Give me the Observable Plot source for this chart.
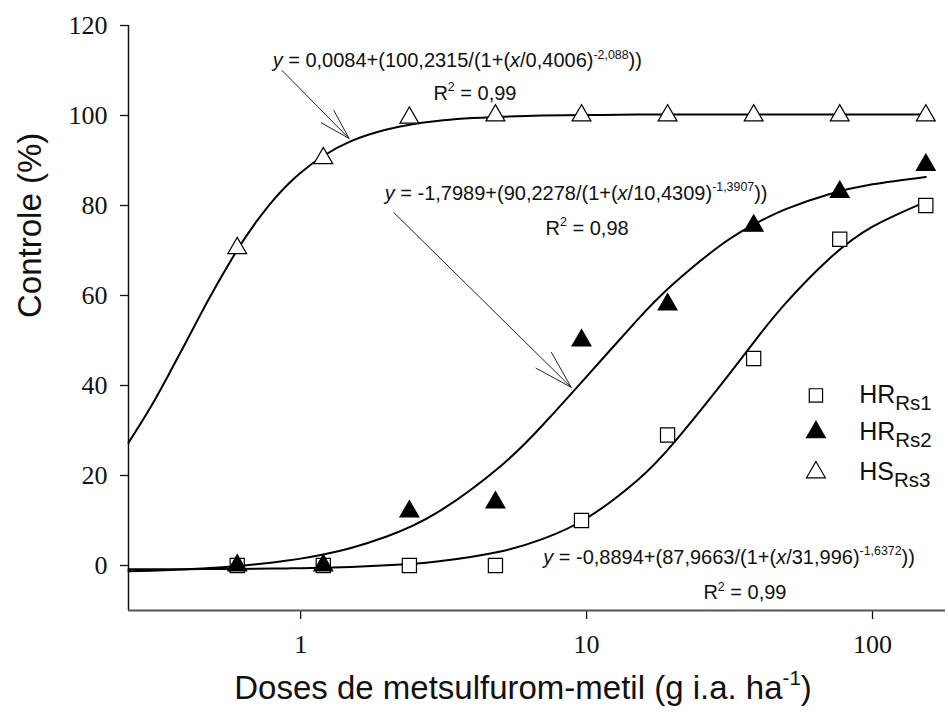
<!DOCTYPE html>
<html><head><meta charset="utf-8">
<script src="https://cdn.jsdelivr.net/npm/d3@7"></script>
<script src="https://cdn.jsdelivr.net/npm/@observablehq/plot@0.6"></script>
<style>body{margin:0;background:#fff}</style>
</head><body><div id="chart"></div>
<script>
// ---- data ----
const doses = [0.6, 1.2, 2.4, 4.8, 9.6, 19.2, 38.4, 76.8, 153.6];
const hrRs1 = [0, 0, 0, 0, 10, 29, 46, 72.5, 80];
const hrRs2 = [0, 0, 12, 14, 50, 58, 75.5, 83, 89];
const hsRs3 = [70.5, 90.5, 99.5, 100, 100, 100, 100, 100, 100];

// fitted curves as drawn
const curveDoses = [0.25, 0.3, 0.35, 0.4, 0.45, 0.5, 0.6, 0.7, 0.8, 0.9, 1, 1.2, 1.5, 2, 3, 5, 7, 10, 15, 20, 30, 40, 50, 70, 100, 153.6];
const fitRs1 = [-0.86, -0.84, -0.83, -0.81, -0.8, -0.79, -0.76, -0.72, -0.68, -0.64, -0.59, -0.48, -0.31, 0.04, 0.9, 3.13, 5.86, 10.5, 18.85, 26.97, 40.77, 51.05, 58.49, 67.96, 75.29, 80.82];
const fitRs2 = [-1.3, -1.16, -1.0, -0.84, -0.67, -0.5, -0.13, 0.26, 0.67, 1.09, 1.53, 2.45, 3.9, 6.45, 11.75, 22.06, 31.11, 41.99, 54.48, 62.45, 71.55, 76.37, 79.26, 82.46, 84.7, 86.34];
const fitRs3 = [27.3, 35.4, 43.1, 50.0, 56.2, 61.5, 70.1, 76.4, 81.1, 84.6, 87.3, 91.0, 94.3, 96.9, 98.8, 99.7, 99.98, 100.1, 100.2, 100.2, 100.2, 100.2, 100.2, 100.2, 100.2, 100.2];

const xTicks = [1, 10, 100];
const yTicks = [0, 20, 40, 60, 80, 100, 120];
const seriesNames = ["HR_{Rs1}", "HR_{Rs2}", "HS_{Rs3}"];

const equations = [
  "*y* = 0,0084+(100,2315/(1+(*x*/0,4006)^{-2,088}))",
  "*y* = -1,7989+(90,2278/(1+(*x*/10,4309)^{-1,3907}))",
  "*y* = -0,8894+(87,9663/(1+(*x*/31,996)^{-1,6372}))"
];
const r2Labels = ["R^{2} = 0,99", "R^{2} = 0,98", "R^{2} = 0,99"];
// annotation anchor points (data units)
const eqX = [3.53, 9.19, 31.5];
const eqY = [112.2, 82.7, 1.8];
const r2X = [4.07, 10.04, 35.8];
const r2Y = [104.9, 74.9, -6.0];
const arrowFromX = [0.861, 2.12];
const arrowFromY = [110, 78.4];
const arrowToX = [1.477, 8.83];
const arrowToY = [94.9, 39.6];
const legendSymX = 63.4, legendTextX = 89.8;
const legendY = [37.8, 29.6, 20.7];

// ---- build tables ----
const curves = [];
[fitRs1, fitRs2, fitRs3].forEach((s, k) => curveDoses.forEach((d, i) => curves.push({x: d, y: s[i], k})));
const eqs = equations.map((t, i) => ({t, x: eqX[i], y: eqY[i]}));
const r2s = r2Labels.map((t, i) => ({t, x: r2X[i], y: r2Y[i]}));
const arrows = arrowFromX.map((_, i) => ({x1: arrowFromX[i], y1: arrowFromY[i], x2: arrowToX[i], y2: arrowToY[i]}));
const legend = seriesNames.map((t, k) => ({t, k, y: legendY[k]}));

const sans = "'Liberation Sans', Arial, sans-serif";
const serif = "'Liberation Serif', 'Times New Roman', serif";
const dotBase = {stroke: "#000", strokeWidth: 1.2};

const chart = Plot.plot({
  width: 948, height: 722,
  marginLeft: 128, marginRight: 3, marginTop: 25, marginBottom: 112,
  style: {background: "white", color: "#111"},
  x: {type: "log", domain: [0.25, 180]},
  y: {domain: [-10, 120]},
  marks: [
    Plot.axisY(yTicks, {tickSize: 8, tickPadding: 13, fontSize: 26, fontFamily: serif, label: null, strokeWidth: 1.3}),
    Plot.axisX(xTicks, {tickSize: 9, tickPadding: 15, fontSize: 26, fontFamily: serif, label: null, tickFormat: d => String(d), strokeWidth: 1.3}),
    Plot.ruleX([0.25], {stroke: "#111", strokeWidth: 1.5}),
    Plot.ruleY([-10], {stroke: "#555", strokeWidth: 2.2}),
    Plot.line(curves, {x: "x", y: "y", z: "k", curve: "natural", stroke: "#000", strokeWidth: 2}),
    Plot.arrow(arrows, {x1: "x1", y1: "y1", x2: "x2", y2: "y2", stroke: "#222", strokeWidth: 1, headLength: 60, headAngle: 32}),
    Plot.dot(doses, {x: doses, y: hrRs1, symbol: "square", fill: "white", r: 8, ...dotBase}),
    Plot.dot(doses, {x: doses, y: hrRs2, symbol: "triangle", fill: "black", r: 7, ...dotBase}),
    Plot.dot(doses, {x: doses, y: hsRs3, symbol: "triangle", fill: "white", r: 7, ...dotBase}),
    Plot.dot([legend[0]], {x: () => legendSymX, y: "y", symbol: "square", fill: "white", r: 7.5, ...dotBase}),
    Plot.dot([legend[1]], {x: () => legendSymX, y: "y", symbol: "triangle", fill: "black", r: 7, ...dotBase}),
    Plot.dot([legend[2]], {x: () => legendSymX, y: "y", symbol: "triangle", fill: "white", r: 7, ...dotBase}),
    Plot.text(legend, {x: () => legendTextX, y: "y", text: "t", textAnchor: "start", fontSize: 25, fontFamily: sans, fill: "#111"}),
    Plot.text(eqs, {x: "x", y: "y", text: "t", fontSize: 20, fontFamily: sans, fill: "#111"}),
    Plot.text(r2s, {x: "x", y: "y", text: "t", fontSize: 20, fontFamily: sans, fill: "#111"}),
    Plot.text(["Controle (%)"], {frameAnchor: "left", dx: -98, rotate: -90, fontSize: 33, fontFamily: sans, fill: "#111"}),
    Plot.text(["Doses de metsulfurom-metil (g i.a. ha^{-1})"], {frameAnchor: "bottom", dy: 88, dx: -14, fontSize: 33, fontFamily: sans, fill: "#111"})
  ]
});
document.getElementById("chart").appendChild(chart);

// rich text: *italic*, ^{sup}, _{sub}
function richify(el) {
  const s = el.textContent;
  if (!/(\^\{|_\{|\*)/.test(s)) return;
  const fs = parseFloat(getComputedStyle(el).fontSize) || 20;
  const parts = s.split(/(\^\{[^}]*\}|_\{[^}]*\}|\*[^*]+\*)/g).filter(p => p !== "");
  el.textContent = "";
  let shift = 0;
  const ns = "http://www.w3.org/2000/svg";
  for (const p of parts) {
    const ts = document.createElementNS(ns, "tspan");
    let target = 0;
    if (p.startsWith("^{")) {
      ts.textContent = p.slice(2, -1);
      ts.setAttribute("font-size", (fs * 0.62).toFixed(1));
      target = -fs * 0.42;
    } else if (p.startsWith("_{")) {
      ts.textContent = p.slice(2, -1);
      ts.setAttribute("font-size", (fs * 0.82).toFixed(1));
      target = fs * 0.28;
    } else if (p.startsWith("*")) {
      ts.textContent = p.slice(1, -1);
      ts.setAttribute("font-style", "italic");
    } else {
      ts.textContent = p;
    }
    const dy = target - shift;
    if (dy !== 0) ts.setAttribute("dy", dy.toFixed(2));
    shift = target;
    el.appendChild(ts);
  }
}
chart.querySelectorAll("text").forEach(richify);
</script>
</body></html>
